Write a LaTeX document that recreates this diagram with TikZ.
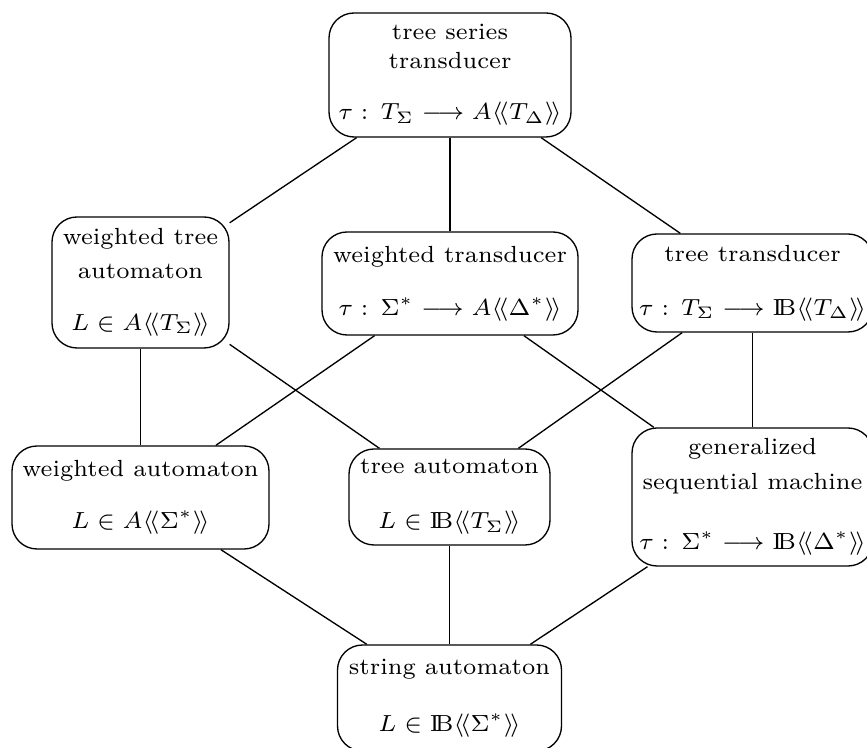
\documentclass[tikz,border=0pt]{standalone}
\usepackage{amsmath}
\newlength\pxu
\setlength\pxu{0.3pt}
\newcommand{\bB}{\mathrm{I\!B}}
\newcommand{\dl}{\langle\!\langle}
\newcommand{\dr}{\rangle\!\rangle}
\begin{document}
\begin{tikzpicture}[x=0.3pt,y=-0.3pt,
  box/.style={draw,rounded corners=7.5pt,align=center,inner sep=0pt,
    font=\fontsize{7}{8}\selectfont},
  link/.style={draw,line width=0.4pt}]
\useasboundingbox (0,0) rectangle (867,748);
\node[box,minimum width=242*\pxu,minimum height=124*\pxu] (tst) at (450,75)
  {tree series\\[0.7pt]transducer\\[7.3pt]$\tau :\, T_\Sigma \longrightarrow A\dl T_\Delta\dr$};
\node[box,minimum width=177*\pxu,minimum height=131*\pxu] (wta) at (140.5,282.5)
  {weighted tree\\[2.2pt]automaton\\[7.5pt]$L\in A\dl T_\Sigma\dr$};
\node[box,minimum width=256*\pxu,minimum height=103*\pxu] (wt) at (450,283.5)
  {weighted transducer\\[7.9pt]$\tau :\, \Sigma^* \longrightarrow A\dl \Delta^*\dr$};
\node[box,minimum width=241*\pxu,minimum height=98*\pxu] (tt) at (752.5,283)
  {tree transducer\\[8.2pt]$\tau :\, T_\Sigma \longrightarrow \bB\dl T_\Delta\dr$};
\node[box,minimum width=257*\pxu,minimum height=103*\pxu] (wa) at (140.5,497.5)
  {weighted automaton\\[7.6pt]$L\in A\dl \Sigma^*\dr$};
\node[box,minimum width=201*\pxu,minimum height=96*\pxu] (ta) at (449.5,497)
  {tree automaton\\[8.5pt]$L\in \bB\dl T_\Sigma\dr$};
\node[box,minimum width=241*\pxu,minimum height=138*\pxu] (gsm) at (752.5,497)
  {generalized\\[2.5pt]sequential machine\\[10pt]$\tau :\, \Sigma^* \longrightarrow \bB\dl \Delta^*\dr$};
\node[box,minimum width=224*\pxu,minimum height=106*\pxu] (sa) at (449.5,698)
  {string automaton\\[9pt]$L\in \bB\dl \Sigma^*\dr$};
\path[link] (tst) -- (wta);
\path[link] (tst) -- (wt);
\path[link] (tst) -- (tt);
\path[link] (wta) -- (wa);
\path[link] (wta) -- (ta);
\path[link] (wt) -- (wa);
\path[link] (wt) -- (gsm);
\path[link] (tt) -- (ta);
\path[link] (tt) -- (gsm);
\path[link] (wa) -- (sa);
\path[link] (ta) -- (sa);
\path[link] (gsm) -- (sa);
\end{tikzpicture}
\end{document}
